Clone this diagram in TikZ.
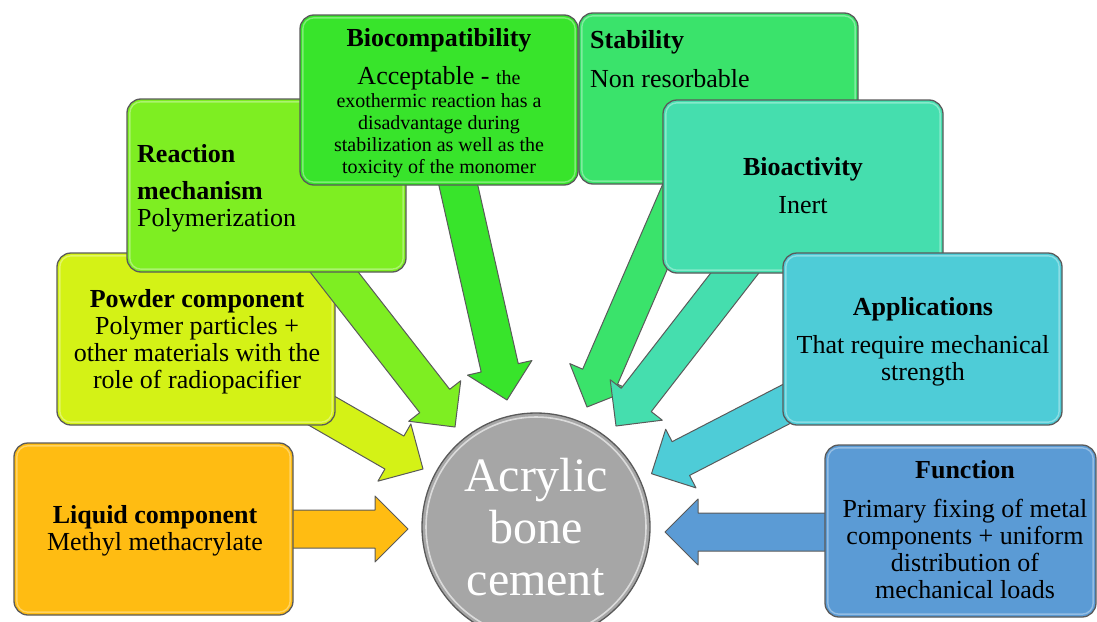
\documentclass[tikz,border=0pt]{standalone}
\usepackage{fontspec}
\setmainfont{Liberation Serif}
\usetikzlibrary{calc}
\definecolor{cLiq}{HTML}{FFBC12}
\definecolor{cPow}{HTML}{D4F216}
\definecolor{cRea}{HTML}{7EEE22}
\definecolor{cBio}{HTML}{38E42B}
\definecolor{cSta}{HTML}{3AE36B}
\definecolor{cBac}{HTML}{45DEAE}
\definecolor{cApp}{HTML}{4ECCD7}
\definecolor{cFun}{HTML}{5B9BD5}
\definecolor{cCem}{HTML}{A6A6A6}
\definecolor{edgegray}{HTML}{5A5A5A}
\newcommand\fatarrow[3]{%
  \coordinate (fabase) at ($(#3)!33pt!(#2)$);
  \draw[fatarrowstyle, fill=#1]
    ($(#2)!19pt!90:(#3)$) -- ($(fabase)!19pt!90:(#3)$) -- ($(fabase)!33pt!90:(#3)$) -- (#3)
    -- ($(fabase)!33pt!-90:(#3)$) -- ($(fabase)!19pt!-90:(#3)$) -- ($(#2)!19pt!-90:(#3)$) -- cycle;
}
\newcommand\boxgloss[1]{%
  \draw[glossline] ([xshift=3.5pt,yshift=3.5pt]#1.south west) rectangle ([xshift=-3.5pt,yshift=-3.5pt]#1.north east);
}
\begin{document}
\begin{tikzpicture}[x=1pt, y=-1pt,
  fatarrowstyle/.style={draw=edgegray, line width=1pt, line join=round},
  box/.style={draw=edgegray, line width=1.3pt, rounded corners=14pt, minimum width=279pt, minimum height=172pt, inner sep=0pt},
  glossline/.style={white, draw opacity=0.35, line width=1.4pt, rounded corners=11pt},
  txt/.style={font=\fontsize{26}{27}\selectfont, inner sep=0pt, align=center, anchor=base},
  small/.style={font=\fontsize{20}{22}\selectfont, inner sep=0pt, align=center, anchor=base}]
\useasboundingbox (0,0) rectangle (1097,621);
% arrow end points
\coordinate (liqS) at (280,529);   \coordinate (liqT) at (408,529);
\coordinate (powS) at (310,404);   \coordinate (powT) at (423,469);
\coordinate (reaS) at (324,259);   \coordinate (reaT) at (455,427);
\coordinate (bioS) at (456,175);   \coordinate (bioT) at (507,400);
\coordinate (staS) at (690,169);   \coordinate (staT) at (587,407);
\coordinate (bacS) at (769,229);   \coordinate (bacT) at (616,426);
\coordinate (appS) at (829,382);   \coordinate (appT) at (651.5,473.7);
\coordinate (funS) at (840,532);   \coordinate (funT) at (665,532);
% liquid
\fatarrow{cLiq}{liqS}{liqT}
\node[box, fill=cLiq] (liq) at (153.5,529) {};
\boxgloss{liq}
\node[txt] (liqtxt) at (155,550) {\textbf{Liquid component}\\Methyl methacrylate};
% powder
\fatarrow{cPow}{powS}{powT}
\node[box, fill=cPow, minimum width=278pt] (pow) at (196,339) {};
\boxgloss{pow}
\node[txt] (powtxt) at (197,388) {\textbf{Powder component}\\Polymer particles +\\other materials with the\\role of radiopacifier};
% reaction
\fatarrow{cRea}{reaS}{reaT}
\node[box, fill=cRea, minimum height=173pt] (rea) at (266.5,185.5) {};
\boxgloss{rea}
\node[txt, align=left, anchor=base west] (reatxt) at (137,226) {\textbf{Reaction}\\[10pt]\textbf{mechanism}\\Polymerization};
% biocompatibility
\fatarrow{cBio}{bioS}{bioT}
\node[box, fill=cBio, minimum width=278pt, minimum height=170pt] (bio) at (439,100) {};
\boxgloss{bio}
\node[txt] (biotxt) at (439,84) {\textbf{Biocompatibility}\\[11pt]Acceptable - {\fontsize{20}{22}\selectfont the}};
\node[small] (biosmall) at (439,173) {exothermic reaction has a\\disadvantage during\\stabilization as well as the\\toxicity of the monomer};
% stability
\fatarrow{cSta}{staS}{staT}
\node[box, fill=cSta, minimum height=171pt] (sta) at (718.5,98.5) {};
\boxgloss{sta}
\node[txt, align=left, anchor=base west] (statxt) at (590,87) {\textbf{Stability}\\[12pt]Non resorbable};
% bioactivity
\fatarrow{cBac}{bacS}{bacT}
\node[box, fill=cBac, minimum width=280pt, minimum height=173pt] (bac) at (803,186.5) {};
\boxgloss{bac}
\node[txt] (bactxt) at (803,213) {\textbf{Bioactivity}\\[11pt]Inert};
% applications
\fatarrow{cApp}{appS}{appT}
\node[box, fill=cApp] (app) at (922.5,339) {};
\boxgloss{app}
\node[txt] (apptxt) at (923,380) {\textbf{Applications}\\[11pt]That require mechanical\\strength};
% function
\fatarrow{cFun}{funS}{funT}
\node[box, fill=cFun, minimum width=271pt] (fun) at (960.5,531) {};
\boxgloss{fun}
\node[txt] (funtxt) at (965,598) {\textbf{Function}\\[12pt]Primary fixing of metal\\components + uniform\\distribution of\\mechanical loads};
% centre
\node[circle, draw=edgegray, line width=1.3pt, fill=cCem, minimum size=228pt, inner sep=0pt,
      text=white, align=center, font=\fontsize{48}{52}\selectfont] (cem) at (536,527) {Acrylic\\bone\\cement};
\draw[white, opacity=0.6, line width=1.6pt] (cem.center) circle (110pt);
\end{tikzpicture}
\end{document}
